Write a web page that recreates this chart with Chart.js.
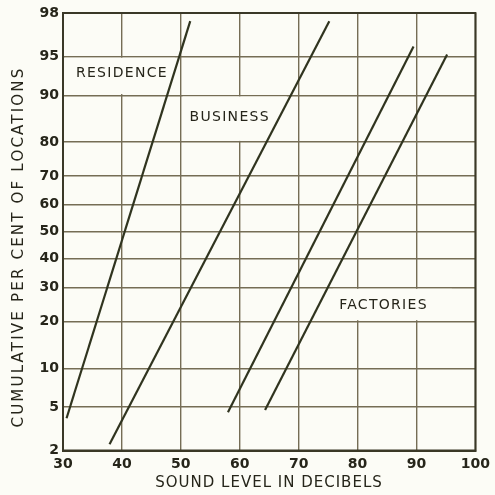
<!DOCTYPE html>
<html>
<head>
<meta charset="utf-8">
<script src="https://cdn.jsdelivr.net/npm/chart.js@4.4.0/dist/chart.umd.min.js"></script>
<style>
  html, body { margin: 0; padding: 0; background: #fcfcf6; }
  #wrap { width: 495px; height: 495px; }
</style>
</head>
<body>
<div id="wrap"><canvas id="chart"></canvas></div>
<script>
// tick values (y is a normal-probability scale)
const xTicks = [30, 40, 50, 60, 70, 80, 90, 100];
const yTicks = [2, 5, 10, 20, 30, 40, 50, 60, 70, 80, 90, 95, 98];

// straight lines on probability paper: end points
const residenceDb = [30.6, 51.6];
const residencePct = [4.0, 97.6];
const businessDb = [37.9, 75.2];
const businessPct = [2.3, 97.6];
const factoriesLowDb = [58.0, 89.5];
const factoriesLowPct = [4.5, 95.9];
const factoriesHighDb = [64.3, 95.2];
const factoriesHighPct = [4.7, 95.2];

const areaNames = ['RESIDENCE', 'BUSINESS', 'FACTORIES'];

const BG = '#fcfcf6';
const INK = '#26251a';
const GRID = '#756d55';
const LINE = '#30341f';

// inverse normal CDF (Acklam)
function probit(p) {
    const a = [-3.969683028665376e+01, 2.209460984245205e+02, -2.759285104469687e+02, 1.383577518672690e+02, -3.066479806614716e+01, 2.506628277459239e+00];
    const b = [-5.447609879822406e+01, 1.615858368580409e+02, -1.556989798598866e+02, 6.680131188771972e+01, -1.328068155288572e+01];
    const c = [-7.784894002430293e-03, -3.223964580411365e-01, -2.400758277161838e+00, -2.549732539343734e+00, 4.374664141464968e+00, 2.938163982698783e+00];
    const d = [7.784695709041462e-03, 3.224671290700398e-01, 2.445134137142996e+00, 3.754408661907416e+00];
    const pl = 0.02425;
    let q, r;
    if (p < pl) {
        q = Math.sqrt(-2 * Math.log(p));
        return (((((c[0]*q+c[1])*q+c[2])*q+c[3])*q+c[4])*q+c[5]) / ((((d[0]*q+d[1])*q+d[2])*q+d[3])*q+1);
    }
    if (p > 1 - pl) {
        q = Math.sqrt(-2 * Math.log(1 - p));
        return -(((((c[0]*q+c[1])*q+c[2])*q+c[3])*q+c[4])*q+c[5]) / ((((d[0]*q+d[1])*q+d[2])*q+d[3])*q+1);
    }
    q = p - 0.5; r = q * q;
    return (((((a[0]*r+a[1])*r+a[2])*r+a[3])*r+a[4])*r+a[5])*q / (((((b[0]*r+b[1])*r+b[2])*r+b[3])*r+b[4])*r+1);
}

function toPoints(db, pct) {
    return db.map((v, i) => ({ x: v, y: probit(pct[i] / 100) }));
}

// white boxes behind the area names (x in dB, y band in per cent)
const labelBoxes = [
    { x0: 30.3, x1: 49.0, lo: 90, hi: 95, tx: 39.9, ty: 93.2 },
    { x0: 50.3, x1: 68.0, lo: 80, hi: 90, tx: 58.2, ty: 85.8 },
    { x0: 75.8, x1: 96.0, lo: 20, hi: 30, tx: 84.3, ty: 24.4 }
];

const areaLabels = {
    id: 'areaLabels',
    beforeDatasetsDraw(chart) {
        const { ctx, scales: { x, y } } = chart;
        ctx.save();
        labelBoxes.forEach((b, i) => {
            const x0 = x.getPixelForValue(b.x0), x1 = x.getPixelForValue(b.x1);
            const yTop = y.getPixelForValue(probit(b.hi / 100));
            const yBot = y.getPixelForValue(probit(b.lo / 100));
            ctx.fillStyle = BG;
            ctx.fillRect(x0, yTop + 1.2, x1 - x0, yBot - yTop - 2.4);
            ctx.fillStyle = INK;
            ctx.font = '14px "DejaVu Sans"';
            ctx.letterSpacing = '1.3px';
            ctx.textAlign = 'center';
            ctx.textBaseline = 'middle';
            ctx.fillText(areaNames[i], x.getPixelForValue(b.tx) + 0.6, y.getPixelForValue(probit(b.ty / 100)));
        });
        ctx.restore();
        const a = chart.chartArea;
        ctx.save();
        ctx.strokeStyle = '#3a3827';
        ctx.lineWidth = 2;
        ctx.strokeRect(a.left, a.top, a.right - a.left, a.bottom - a.top);
        ctx.restore();
    },
    afterDraw(chart) {
        const { ctx } = chart;
        ctx.save();
        ctx.fillStyle = INK;
        ctx.font = '15px "DejaVu Sans"';
        ctx.textAlign = 'center';
        ctx.textBaseline = 'middle';
        ctx.letterSpacing = '1px';
        ctx.fillText('SOUND LEVEL IN DECIBELS', 269, 483);
        ctx.translate(19, 247);
        ctx.rotate(-Math.PI / 2);
        ctx.letterSpacing = '2.2px';
        ctx.fillText('CUMULATIVE PER CENT OF LOCATIONS', 0, 0);
        ctx.restore();
    }
};

const lineStyle = { borderColor: LINE, borderWidth: 2.2, pointRadius: 0, showLine: true, fill: false };

new Chart(document.getElementById('chart'), {
    type: 'scatter',
    data: {
        datasets: [
            { label: 'Residence', data: toPoints(residenceDb, residencePct), ...lineStyle },
            { label: 'Business', data: toPoints(businessDb, businessPct), ...lineStyle },
            { label: 'Factories', data: toPoints(factoriesLowDb, factoriesLowPct), ...lineStyle },
            { label: 'Factories 2', data: toPoints(factoriesHighDb, factoriesHighPct), ...lineStyle }
        ]
    },
    options: {
        responsive: true,
        maintainAspectRatio: false,
        animation: false,
        layout: { padding: { top: 13, right: 15, left: 0, bottom: 0 } },
        plugins: { legend: { display: false }, tooltip: { enabled: false } },
        scales: {
            x: {
                type: 'linear',
                min: 30, max: 100,
                afterBuildTicks: s => { s.ticks = xTicks.map(v => ({ value: v })); },
                afterFit: s => { s.height = 44.5; },
                grid: { color: GRID, lineWidth: 1.4, drawTicks: false },
                border: { color: '#3a3827', width: 2 },
                ticks: { color: INK, padding: 5, maxRotation: 0, font: { family: 'DejaVu Sans', size: 14, weight: 'bold' } }
            },
            y: {
                type: 'linear',
                min: probit(0.02), max: probit(0.98),
                afterBuildTicks: s => { s.ticks = yTicks.map(v => ({ value: probit(v / 100) })); },
                afterFit: s => { s.width = 63; },
                grid: { color: GRID, lineWidth: 1.4, drawTicks: false },
                border: { color: '#3a3827', width: 2 },
                ticks: { color: INK, padding: 4, callback: (v, i) => yTicks[i], font: { family: 'DejaVu Sans', size: 14, weight: 'bold' } }
            }
        }
    },
    plugins: [areaLabels]
});
</script>
</body>
</html>
